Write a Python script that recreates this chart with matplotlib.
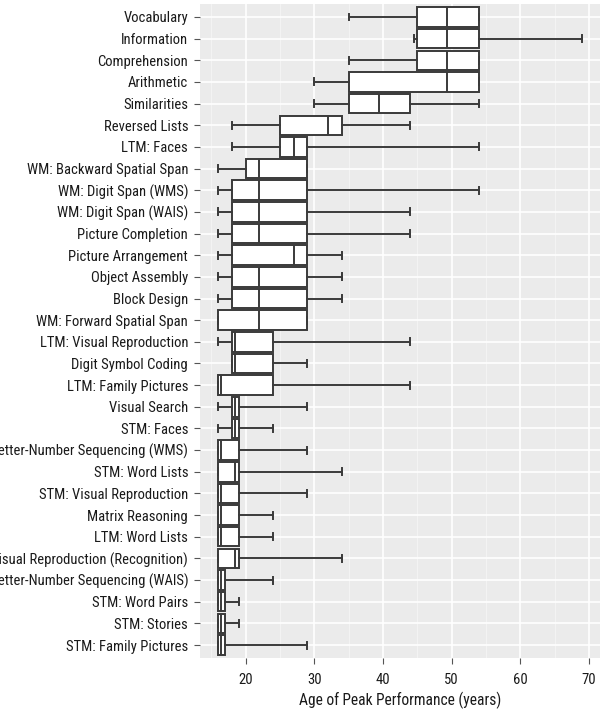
import matplotlib
matplotlib.use("Agg")
import matplotlib.pyplot as plt
from matplotlib.ticker import MultipleLocator

# tasks, top to bottom
tasks = [
    "Vocabulary", "Information", "Comprehension", "Arithmetic", "Similarities",
    "Reversed Lists", "LTM: Faces", "WM: Backward Spatial Span",
    "WM: Digit Span (WMS)", "WM: Digit Span (WAIS)", "Picture Completion",
    "Picture Arrangement", "Object Assembly", "Block Design",
    "WM: Forward Spatial Span", "LTM: Visual Reproduction",
    "Digit Symbol Coding", "LTM: Family Pictures", "Visual Search",
    "STM: Faces", "Letter-Number Sequencing (WMS)", "STM: Word Lists",
    "STM: Visual Reproduction", "Matrix Reasoning", "LTM: Word Lists",
    "LTM: Visual Reproduction (Recognition)",
    "Letter-Number Sequencing (WAIS)", "STM: Word Pairs", "STM: Stories",
    "STM: Family Pictures",
]

# five-number summaries (years)
whisker_lo = [35, 44.5, 35, 30, 30, 18, 18, 16, 16, 16, 16, 16, 16, 16, 16,
              16, 18, 16, 16, 16, 16, 16, 16, 16, 16, 16, 16, 16, 16, 16]
q1 = [45, 45, 45, 35, 35, 25, 25, 20, 18, 18, 18, 18, 18, 18, 16,
      18, 18, 16, 18, 18, 16, 16, 16, 16, 16, 16, 16, 16, 16, 16]
median = [49.4, 49.4, 49.4, 49.4, 39.4, 32, 27, 22, 22, 22, 22, 27, 22, 22, 22,
          18.4, 18.4, 16.4, 18.4, 18.4, 16.4, 18.4, 16.4, 16.4, 16.4, 18.4,
          16.4, 16.4, 16.4, 16.4]
q3 = [54, 54, 54, 54, 44, 34, 29, 29, 29, 29, 29, 29, 29, 29, 29,
      24, 24, 24, 19, 19, 19, 19, 19, 19, 19, 19, 17, 17, 17, 17]
whisker_hi = [54, 69, 54, 54, 54, 44, 54, 29, 54, 44, 44, 34, 34, 34, 29,
              44, 29, 44, 29, 24, 29, 34, 29, 24, 24, 34, 24, 19, 19, 29]

stats = [
    {"label": t, "whislo": lo, "q1": a, "med": m, "q3": b, "whishi": hi,
     "fliers": []}
    for t, lo, a, m, b, hi in zip(tasks, whisker_lo, q1, median, q3, whisker_hi)
]

plt.rcParams["font.family"] = ["Roboto Condensed", "Liberation Sans Narrow",
                               "Roboto", "DejaVu Sans"]

fig = plt.figure(figsize=(6.16, 7.11), dpi=100)
ax = fig.add_axes([0.3247, 0.0745, 0.6497, 0.9199])
ax.set_facecolor("#EBEBEB")

edge = "#3a3a3a"
line = dict(color=edge, linewidth=1.4)
pos = list(range(len(tasks)))
ax.bxp(stats, positions=pos, widths=0.9, orientation="horizontal",
       patch_artist=True, capwidths=0.32, manage_ticks=False,
       boxprops=dict(facecolor="white", edgecolor=edge, linewidth=1.4),
       medianprops=line, whiskerprops=line, capprops=line, zorder=3)

ax.set_xlim(13.35, 71.65)
ax.set_ylim(len(tasks) - 0.4, -0.6)
ax.set_yticks(pos)
ax.set_yticklabels(tasks)
ax.xaxis.set_major_locator(MultipleLocator(10))
ax.xaxis.set_minor_locator(MultipleLocator(5))
ax.set_xticks([20, 30, 40, 50, 60, 70])

ax.grid(True, which="major", color="white", linewidth=1.2, zorder=0)
ax.grid(True, which="minor", axis="x", color="#F5F5F5", linewidth=0.6, zorder=0)
ax.set_axisbelow(True)
for s in ax.spines.values():
    s.set_visible(False)

ax.tick_params(axis="both", which="major", length=4.5, width=0.8,
               color="#555555", labelsize=10.5, labelcolor="#1a1a1a", pad=4)
ax.tick_params(axis="x", which="major", pad=6)
ax.tick_params(axis="x", which="minor", length=0)
ax.set_xlabel("Age of Peak Performance (years)", fontsize=11.2,
              color="#1a1a1a", labelpad=4)

fig.savefig("out.png", dpi=100)
